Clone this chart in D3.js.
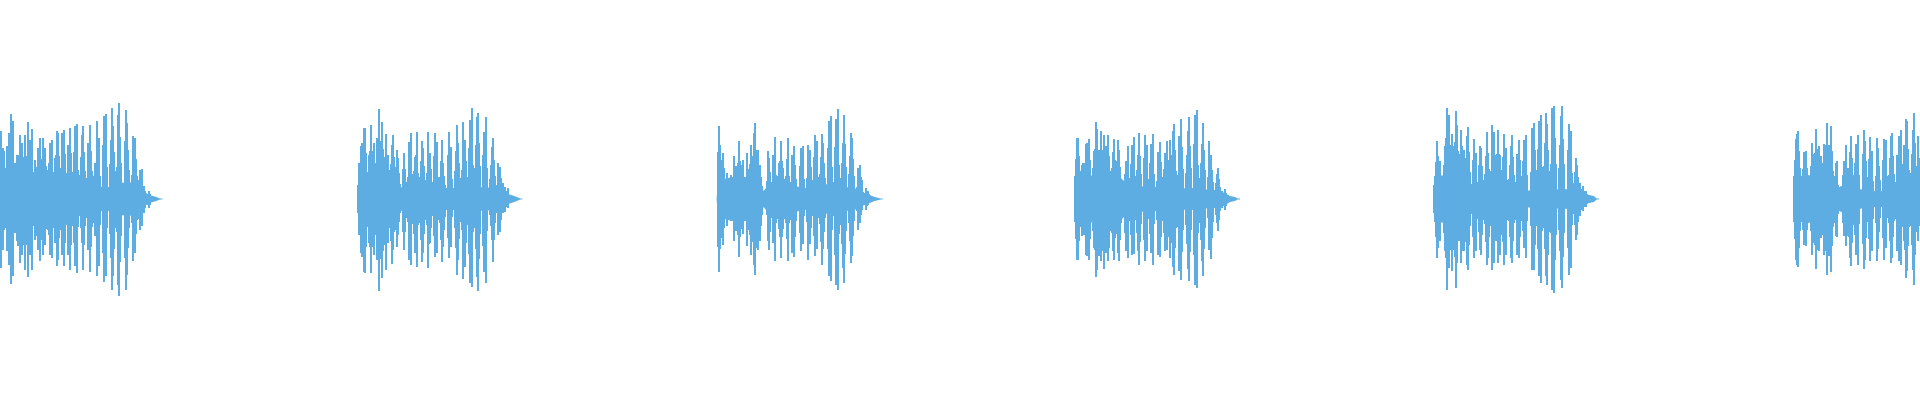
<!DOCTYPE html>
<html>
<head>
<meta charset="utf-8">
<script src="https://cdn.jsdelivr.net/npm/d3@7"></script>
<style>
  html, body { margin: 0; padding: 0; background: #ffffff; }
  svg { display: block; }
</style>
</head>
<body>
<svg id="chart" width="1920" height="400"></svg>
<script>
// ---- DATA ----
// time axis (seconds) and amplitude (% of full scale)
const timeDomain = [0, 19.2];
const ampDomain = [-100, 100];
// onset of each burst (s)
const burstOnsets = [-0.005, 3.583, 7.167, 10.75, 14.34, 17.933];

// burst 1: pulse offsets (ms from onset), positive peaks (%), negative peaks (%)
const b1Offsets = [5,15,32,48,78,95,118,132,155,172,188,205,222,238,255,272,288,305,322,355,372,388,405,438,455,488,505,522,555,572,588,605,628,645,688,705,755,772,822,838,888,905,955,978,992,1045,1062,1122,1138,1188,1198,1265,1278,1338,1355,1405,1422,1445,1495];
const b1Tops    = [28,33.8,25.5,23.8,26.3,33,42.7,38.8,18,22.2,22.2,32.2,28,18,32.2,21.3,38.5,29.7,35,19.7,16,25.5,30.5,30.5,25.5,14.7,28,29.7,20.5,33.8,33,15.5,33,34.7,27.2,35.5,36.3,37.7,32.2,36.3,28,37.2,18,38.8,30.5,41.7,42.5,45.5,36.3,42.2,48,44.7,38,31.3,30.5,14.7,15,6.3,4.2];
const b1Bottoms = [23.5,34.5,25.3,15.3,26.2,32.8,42.5,38.7,17,21.2,23.7,32,27.8,18.7,35.3,21.2,39,27.8,35.3,20.3,18.7,25.7,31.2,27.8,22.8,15.3,27.8,29.5,22,33.7,30.3,15.3,27.8,33.7,27.8,35.3,33.7,37,22,35.3,25.3,36.7,18.7,38.7,33.7,41.7,38.7,45.7,38.7,42.8,48.3,45.3,37.8,31.2,27,15.3,13.7,7,4.5];
const b1Body    = [[0,15],[120,14],[250,11],[350,9],[500,8],[650,6.5],[1100,6],[1180,8],[1370,8.5],[1400,6],[1450,3.5],[1500,2],[1570,1],[1610,0]];

// burst 2
const b2Offsets = [10,24,34,60,70,110,127,144,157,174,190,210,224,240,257,274,300,334,350,384,400,457,510,524,567,584,634,650,700,717,767,784,834,850,907,924,984,1000,1050,1067,1117,1134,1184,1200,1257,1274,1334,1350,1400,1417,1444,1467,1494];
const b2Tops    = [17.8,26.5,27.8,35.3,35.3,22,37,15.3,27.8,15.8,30.3,44.8,26.2,38.7,21.2,32.5,22,27,32,24.5,20.3,22.8,28.7,32.8,21.2,33.7,29.2,25.3,33.7,22.8,32.8,28.7,29.5,17.8,33.7,26.2,37,27.8,38.7,29.5,39.5,45.3,41.2,43.2,33.7,40.8,26.2,30.3,17.8,16.2,7.8,6.2,5.3];
const b2Bottoms = [18,27.2,28.8,36.3,36.8,22.2,37.2,15.5,28,16.3,30.5,45.8,26.3,39.7,16.3,35.5,22.2,32.5,25.5,23.8,18,25.5,30.5,33,27.2,34.2,31.3,27.2,34.7,22.2,28.8,27.2,31.3,23.8,29.7,23.8,38,30.5,40.2,33.8,42.2,43.8,38.8,45.8,36.3,42.2,20.5,31.3,18,16.3,7.2,6.3,4.7];
const b2Body    = [[0,0],[15,10],[180,11],[300,7],[480,5.5],[1000,5.5],[1200,6],[1380,5.5],[1450,5],[1500,2.5],[1560,1.5],[1610,0.5],[1620,0]];

// burst 3
const b3Offsets = [23,33,43,60,76,100,140,176,193,210,226,243,260,306,340,370,383,416,433,516,526,566,580,623,643,663,710,756,776,843,860,916,933,983,1000,1050,1066,1123,1140,1193,1210,1260,1276,1340,1353,1416,1433,1450,1496,1516];
const b3Tops    = [36.3,27,19.5,23,15.5,13,12,21.5,16.5,18,29,17,19.5,23,27,33,38,24.5,17,24,20.5,22,31,18,29,15.5,30.5,22,26.5,25.5,26.5,27,24.5,32,29,32.5,28,39,41.5,40,45,28,42,33,30.5,15.5,17,9.5,5.5,4];
const b3Bottoms = [36.7,25,19.5,23,14.5,13.5,11,21,16,18,29,15,17.5,23.5,28,33,38,25.5,21,21,25.5,22,31,15,29.5,15,31,27,29,26,22.5,30.5,22.5,28.5,25,33,25,38.5,41,43,45.5,34.5,42,32,28.5,15.5,12,5.5,5.5,3];
const b3Body    = [[0,1],[15,9],[80,10],[150,11],[400,11],[440,7],[470,4],[500,6],[550,7.5],[750,7.5],[820,6],[950,5],[1030,4.5],[1080,7],[1150,8.5],[1220,8.5],[1300,6],[1380,5.5],[1420,4],[1480,3],[1530,2],[1580,1],[1620,0.5],[1640,0]];

// burst 4
const b4Offsets = [17,33,43,67,83,107,117,127,143,190,207,223,243,263,277,293,310,327,343,377,393,427,443,510,527,567,587,627,643,700,717,760,777,833,853,900,917,950,977,993,1043,1060,1127,1143,1200,1217,1267,1283,1343,1360,1417,1433,1467,1500,1527];
const b4Tops    = [30.5,30.5,21.3,17.2,18,27.5,28,23,30.2,23.8,38.5,35.2,24.7,33.8,24.7,32.2,26.3,32.2,21.3,23.5,30.2,29.3,24.7,19.2,26.3,27.2,30.8,22.2,33,31.8,26.8,27.5,32.7,23.3,28.5,23,28.8,29.7,33.8,37.5,31.7,40,34.2,40.8,42.2,44.7,27.5,38,28.8,22.2,12.5,15.5,3.8,5,2.2];
const b4Bottoms = [30.7,30.3,21.2,18.7,17.8,27.8,28.7,24.5,30.7,24.5,39.2,35.7,28.7,31.2,26.2,34.8,27,31.2,24.5,26.2,30.3,27,31.2,26.2,29.5,27.8,27.5,26.2,32.8,31.2,26.2,27,32.8,27.8,29.2,26.2,25.3,29.5,34,37.8,36.2,40.7,34.8,40.8,43.2,44.5,31.2,38.7,25.3,29.8,12,15.8,4.5,5.3,2];
const b4Body    = [[0,9],[30,12.5],[200,11.5],[450,11],[520,7.5],[600,6.5],[830,6],[880,4],[1030,4],[1100,5.5],[1250,5.5],[1330,4.5],[1450,4],[1500,3],[1550,1.5],[1600,1],[1630,0]];

// burst 5
const b5Offsets = [17,27,40,57,107,117,133,150,167,183,200,217,233,267,283,300,327,343,400,417,460,473,527,543,583,600,640,660,700,717,767,783,833,850,900,917,983,1000,1050,1067,1117,1133,1183,1200,1267,1283,1350,1367,1417,1433,1460,1493,1517];
const b5Tops    = [18,28.8,21.3,18.8,26.3,30.5,45.5,41.8,27.2,32.5,26.3,44.2,37.2,34.7,26.3,24.7,31.3,36,30.2,23,26.3,25.5,33.3,23,37.2,33.5,34.7,22.2,32.5,25.5,26.3,32.2,22.7,29.7,29.3,32.2,35.5,38,38.8,41.8,43,37.5,45.5,46.7,41.3,46.3,37.5,33.8,20.5,17.2,8,6.3,3.8];
const b5Bottoms = [17.8,29.5,24.5,21.2,26.2,29.5,45.3,34.5,25.3,36.2,25.3,44.5,32,32,26.2,26.2,32.8,35.3,29.5,26.2,25.3,27.8,33.2,29.5,35.3,32,32,27.8,32.8,27.8,29.5,32,27.8,29.5,24.5,29.5,35.3,35.3,38.7,42,38.7,42.8,45.3,47,40.3,44.5,37.8,34.5,20.3,17.8,8.7,6.2,3.8];
const b5Body    = [[0,0.5],[10,11],[100,12],[330,11],[370,7.5],[550,6],[600,4],[900,4],[1000,4.5],[1370,5],[1450,4.5],[1500,3.5],[1550,2],[1600,1.5],[1630,0]];

// burst 6 (runs past the right edge)
const b6Offsets = [24,34,50,60,94,110,127,174,190,210,224,240,257,274,307,324,340,360,377,424,434,507,524,540,567,577,627,644,707,717,767,784,840,850,907,924,974,990,1040,1057,1074,1107,1127,1140,1194,1210,1250];
const b6Tops    = [30.2,32.5,33.8,24.2,15.2,23.5,23.8,16.3,28,22.5,35.2,25,26.3,21.3,27.5,27.2,38,26.8,36.7,18,18.8,18.8,27.2,15.5,23.5,31.3,27.7,32.2,34.7,29.2,30.8,23.8,30.5,25.5,30.2,29.7,31.3,33,22.2,31.3,34.7,27.2,40,38.8,34.7,43,31.3];
const b6Bottoms = [30.7,33.2,34.2,24.5,15.3,23.2,23.7,16.2,28.2,22,35,25.3,26.2,19.5,27.8,26.2,38.2,28.7,36.5,18.7,19.2,18.7,23.7,18.7,29.5,33.7,27.8,32.8,34.8,30.3,30.8,26.2,31.2,25,30.3,24.5,32,29.5,26.2,31.2,32.8,21.2,39.5,36.2,35.3,43.2,21];
const b6Body    = [[0,0],[10,11],[160,12],[200,9.5],[400,9.5],[440,5.5],[480,6.5],[600,6],[730,4],[1030,4],[1100,7],[1200,7.5],[1280,7]];

const bursts = [
  {offsets: b1Offsets, tops: b1Tops, bottoms: b1Bottoms, body: b1Body},
  {offsets: b2Offsets, tops: b2Tops, bottoms: b2Bottoms, body: b2Body},
  {offsets: b3Offsets, tops: b3Tops, bottoms: b3Bottoms, body: b3Body},
  {offsets: b4Offsets, tops: b4Tops, bottoms: b4Bottoms, body: b4Body},
  {offsets: b5Offsets, tops: b5Tops, bottoms: b5Bottoms, body: b5Body},
  {offsets: b6Offsets, tops: b6Tops, bottoms: b6Bottoms, body: b6Body}
].map((b, i) => Object.assign(b, {onset: burstOnsets[i]}));

// ---- DRAW ----
const W = 1920, H = 400;
const color = "#5DADE2";
const svg = d3.select("#chart");
const x = d3.scaleLinear().domain(timeDomain).range([0, W]);
const y = d3.scaleLinear().domain(ampDomain).range([H - 1, -1]);

svg.append("defs").append("clipPath").attr("id", "clip")
  .append("rect").attr("x", 0).attr("y", 0).attr("width", W).attr("height", H);

const plot = svg.append("g").attr("clip-path", "url(#clip)");

const area = d3.area()
  .x(d => d.t)
  .y0(d => y(-d.a))
  .y1(d => y(d.a))
  .curve(d3.curveLinear);

// each pulse drawn as stacked columns: narrow at the peak, wider toward the base
const layers = [
  {frac: 1.0, w: 1.8},
  {frac: 0.65, w: 3.4},
  {frac: 0.38, w: 5.0}
];

bursts.forEach(b => {
  const g = plot.append("g");
  // dense body of the waveform
  g.append("path")
    .datum(b.body.map(p => ({t: x(b.onset + p[0] / 1000), a: p[1]})))
    .attr("d", area)
    .attr("fill", color);
  // thin zero line through the burst
  g.append("line")
    .attr("x1", x(b.onset + b.body[0][0] / 1000))
    .attr("x2", x(b.onset + b.body[b.body.length - 1][0] / 1000) + 2)
    .attr("y1", y(0)).attr("y2", y(0))
    .attr("stroke", color).attr("stroke-width", 1.2);
  // pulse peaks
  const pulses = b.offsets.map((o, i) => ({t: b.onset + o / 1000, top: b.tops[i], bot: b.bottoms[i]}));
  layers.forEach(L => {
    g.selectAll(null)
      .data(pulses)
      .join("rect")
      .attr("x", d => x(d.t) - L.w / 2)
      .attr("width", L.w)
      .attr("y", d => y(d.top * L.frac))
      .attr("height", d => y(-d.bot * L.frac) - y(d.top * L.frac))
      .attr("fill", color)
      .attr("shape-rendering", "crispEdges");
  });
});
</script>
</body>
</html>
